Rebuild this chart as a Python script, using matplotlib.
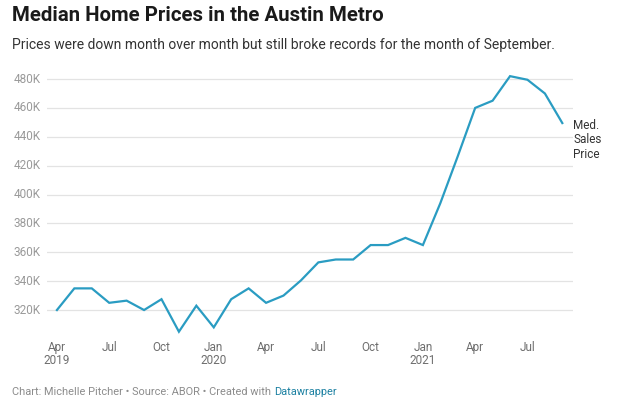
import numpy as np
import matplotlib
matplotlib.use("Agg")
import matplotlib.pyplot as plt

plt.rcParams['font.family'] = ['Roboto', 'DejaVu Sans']

# Monthly median sales price (thousands), Apr 2019 - Sep 2021
months = ['Apr 2019', 'May 2019', 'Jun 2019', 'Jul 2019', 'Aug 2019', 'Sep 2019',
          'Oct 2019', 'Nov 2019', 'Dec 2019', 'Jan 2020', 'Feb 2020', 'Mar 2020',
          'Apr 2020', 'May 2020', 'Jun 2020', 'Jul 2020', 'Aug 2020', 'Sep 2020',
          'Oct 2020', 'Nov 2020', 'Dec 2020', 'Jan 2021', 'Feb 2021', 'Mar 2021',
          'Apr 2021', 'May 2021', 'Jun 2021', 'Jul 2021', 'Aug 2021', 'Sep 2021']
price = [320, 335, 335, 325, 326.5, 320, 327.5, 305, 323, 308, 327.5, 335,
         325, 330, 340.5, 353, 355, 355, 365, 365, 370, 365, 394, 426.5,
         460, 465, 482, 479.5, 470, 449.5]

tick_labels = ['Apr\n2019', 'Jul', 'Oct', 'Jan\n2020', 'Apr', 'Jul', 'Oct',
               'Jan\n2021', 'Apr', 'Jul']
y_ticks = [320, 340, 360, 380, 400, 420, 440, 460, 480]

x = np.arange(len(months))

fig = plt.figure(figsize=(6.35, 4.07), dpi=100)
ax = fig.add_axes([0.074, 0.1744, 0.828, 0.6456])

ax.plot(x, price, color='#2a9cc2', lw=1.6, solid_joinstyle='miter', zorder=3)

ax.set_xlim(-0.57, 29.6)
ax.set_ylim(302, 484)

ax.set_yticks(y_ticks)
ax.set_yticklabels([f'{v}K' for v in y_ticks])
ax.set_xticks(x[::3])
ax.set_xticklabels(tick_labels, linespacing=1.05)

ax.grid(axis='y', color='#e3e3e3', lw=0.9)
ax.set_axisbelow(True)
for s in ax.spines.values():
    s.set_visible(False)

ax.tick_params(axis='y', length=0, pad=4.5, labelsize=8.5, labelcolor='#9a9a9a')
ax.tick_params(axis='x', length=0, pad=3.5, labelsize=8.5, labelcolor='#6e6e6e')
for lab in ax.get_yticklabels():
    lab.set_verticalalignment('center')

# direct label for the line
ax.text(x[-1] + 0.62, price[-1] + 3, 'Med.\nSales\nPrice', fontsize=8.5,
        color='#333333', va='top', ha='left', linespacing=1.15)

fig.text(0.019, 0.962, 'Median Home Prices in the Austin Metro', fontsize=14.7,
         fontweight='bold', color='#1a1a1a', va='center')
fig.text(0.019, 0.889, 'Prices were down month over month but still broke records for the month of September.',
         fontsize=10, color='#333333', va='center')

foot = fig.text(0.019, 0.036, 'Chart: Michelle Pitcher \u2022 Source: ABOR \u2022 Created with ',
                fontsize=7.9, color='#8c8c8c', va='center')
fig.canvas.draw()
bb = foot.get_window_extent()
fig.text(bb.x1 / fig.bbox.width, 0.036, 'Datawrapper', fontsize=7.9,
         color='#1d81a2', va='center')

fig.savefig('out.png', dpi=100)
